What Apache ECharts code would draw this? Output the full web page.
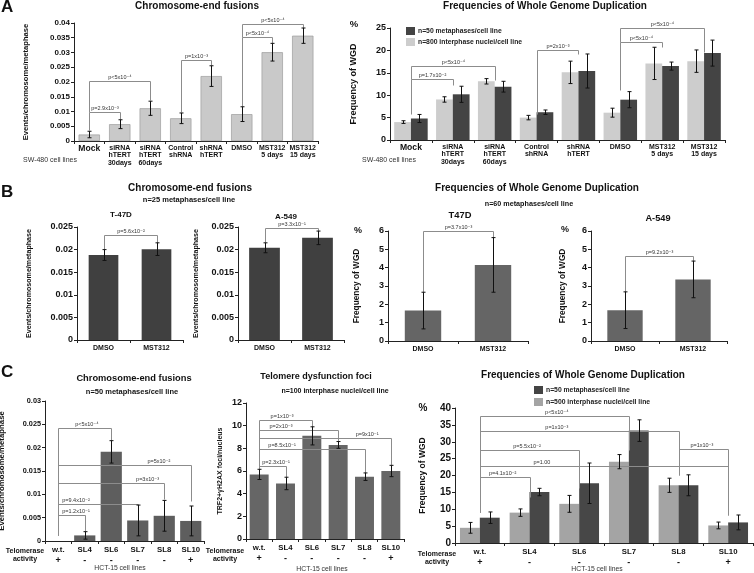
<!DOCTYPE html>
<html><head><meta charset="utf-8">
<script src="https://cdn.jsdelivr.net/npm/echarts@6/dist/echarts.min.js"></script>
<style>html,body{margin:0;padding:0;background:#fff}#c{width:754px;height:573px}</style>
</head><body><div id="c"></div>
<script>
const FONT = '"Liberation Sans", Arial, "DejaVu Sans", sans-serif';

// ---------------- Panel A (SW-480) ----------------
const aCategories = ['Mock','siRNA\nhTERT\n30days','siRNA\nhTERT\n60days','Control\nshRNA','shRNA\nhTERT','DMSO','MST312\n5 days','MST312\n15 days'];
const aFusion    = [0.0022, 0.0057, 0.0111, 0.0077, 0.0220, 0.0091, 0.0301, 0.0357];
const aFusionErr = [0.0011, 0.0015, 0.0024, 0.0018, 0.0035, 0.0025, 0.0030, 0.0026];
const aWgdNuclei    = [4.0, 9.05, 13.1, 5.0, 15.1, 6.1, 17.1, 17.6];
const aWgdNucleiErr = [0.3, 0.6, 0.6, 0.5, 2.5, 1.0, 3.6, 2.5];
const aWgdMeta      = [4.8, 10.2, 11.9, 6.2, 15.4, 9.0, 16.5, 19.4];
const aWgdMetaErr   = [0.9, 1.8, 1.2, 0.5, 3.8, 1.8, 0.9, 2.9];
// brackets: [fromCat, toCat, top, fromBottom, toBottom, label]
const aFusionBrackets = [
  [0,1,0.0099,0.0036,0.0076,'p=2.9x10⁻³'],
  [0,2,0.0203,0.0099,0.0139,'p<5x10⁻⁴'],
  [3,4,0.0275,0.0099,0.0258,'p=1x10⁻³'],
  [5,6,0.0351,0.0118,0.0332,'p<5x10⁻⁴'],
  [5,7,0.0398,0.0351,0.0383,'p<5x10⁻⁴']
];
const aWgdBrackets = [
  [0,1,13.6,5.9,12.2,'p=1.7x10⁻²'],
  [0,2,16.5,13.6,13.4,'p<5x10⁻⁴'],
  [3,4,20.0,5.9,19.3,'p=2x10⁻³'],
  [5,6,21.9,11.1,20.8,'p<5x10⁻⁴'],
  [5,7,24.9,21.9,19.7,'p<5x10⁻⁴']
];

// ---------------- Panel B ----------------
const bCategories = ['DMSO','MST312'];
const bT47Fusion = [0.0188, 0.0201];
const bT47FusionErr = [0.0012, 0.0014];
const bA549Fusion = [0.0204, 0.0226];
const bA549FusionErr = [0.0011, 0.0015];
const bT47Wgd = [1.66, 4.15];
const bT47WgdErr = [1.0, 1.49];
const bA549Wgd = [1.68, 3.36];
const bA549WgdErr = [1.0, 1.0];
const bT47FusionBrackets = [[0,1,0.0232,0.0200,0.0215,'p=5.6x10⁻²']];
const bA549FusionBrackets = [[0,1,0.0248,0.0216,0.0240,'p=3.3x10⁻¹']];
const bT47WgdBrackets = [[0,1,6.0,2.65,5.63,'p=3.7x10⁻³']];
const bA549WgdBrackets = [[0,1,4.63,2.67,4.36,'p=9.2x10⁻³']];

// ---------------- Panel C (HCT-15) ----------------
const cCategories = ['w.t.','SL4','SL6','SL7','SL8','SL10'];
const cTelomerase = ['+','-','-','-','-','+'];
const cFusion    = [0, 0.0012, 0.0191, 0.0044, 0.0054, 0.0043];
const cFusionErr = [0, 0.0008, 0.0024, 0.0033, 0.0033, 0.0032];
const cFoci      = [5.7, 4.9, 9.1, 8.3, 5.5, 6.0];
const cFociErr   = [0.45, 0.55, 0.8, 0.3, 0.33, 0.5];
const cWgdNuclei    = [4.5, 9.0, 11.6, 24.1, 17.1, 5.2];
const cWgdNucleiErr = [1.6, 1.1, 2.5, 2.1, 2.1, 1.0];
const cWgdMeta      = [7.5, 15.1, 17.7, 33.3, 17.1, 6.1];
const cWgdMetaErr   = [1.7, 1.1, 6.0, 3.2, 3.1, 2.2];
const cFusionBrackets = [
  [0,2,0.0243,0.0012,0.0216,'p<5x10⁻⁴'],
  [0,5,0.0162,0.0012,0.0086,'p=5x10⁻²'],
  [0,4,0.0124,0.0012,0.0089,'p=3x10⁻³'],
  [0,3,0.0080,0.0012,0.0077,'p=9.4x10⁻²'],
  [0,1,0.0055,0.0012,0.0021,'p=1.2x10⁻¹']
];
const cFociBrackets = [
  [0,2,10.5,6.1,9.9,'p=1x10⁻³'],
  [0,3,9.62,6.1,8.6,'p=2x10⁻³'],
  [0,5,8.94,6.1,6.5,'p=9x10⁻¹'],
  [0,4,7.91,6.1,5.8,'p=8.5x10⁻¹'],
  [0,1,6.44,6.1,5.45,'p=2.3x10⁻¹']
];
const cWgdBrackets = [
  [0,3,37.5,9.2,27.6,'p<5x10⁻⁴'],
  [0,4,33.1,9.2,20.2,'p=1x10⁻³'],
  [0,2,27.6,9.2,16.2,'p=5.5x10⁻²'],
  [0,5,22.8,9.2,8.2,'p=1.00'],
  [0,1,19.7,9.2,13.7,'p=4.1x10⁻²'],
  [4,5,27.9,20.2,8.2,'p=1x10⁻³']
];
// label anchor (in category units) for off-centre bracket labels in panel C
const cFusionLabelAt = [1.08, 3.8, 3.37, 0.67, 0.67];
const cFociLabelAt   = [0.87, 0.83, 4.1, 0.87, 0.64];
const cWgdLabelAt    = [1.55, 1.55, 0.95, 1.25, 0.46, 4.47];

// ---------------- builders ----------------
const AX = '#222';
function grid(l,t,w,h){ return {left:l, top:t, width:w, height:h, containLabel:false, outerBoundsMode:'none'}; }
function xAx(gi, data, label){
  return Object.assign({type:'category', gridIndex:gi, data,
    axisLine:{show:true, lineStyle:{color:AX, width:1}},
    axisTick:{show:true, length:3, lineStyle:{color:AX}},
    splitLine:{show:false}}, {axisLabel:Object.assign({interval:0, color:'#111', fontFamily:FONT, fontWeight:'bold', margin:3}, label)});
}
function yAx(gi, max, interval, fs, name, nameGap, nameFs){
  return {type:'value', gridIndex:gi, min:0, max, interval,
    splitLine:{show:false},
    axisLine:{show:true, lineStyle:{color:AX, width:1}},
    axisTick:{show:true, length:3, lineStyle:{color:AX}},
    axisLabel:{fontSize:fs, fontWeight:'bold', color:'#111', fontFamily:FONT, margin:4},
    name, nameLocation:'middle', nameGap, nameRotate:90,
    nameTextStyle:{fontSize:nameFs, fontWeight:'bold', color:'#111', fontFamily:FONT}};
}
function bar(gi, data, color, extra){
  return Object.assign({type:'bar', xAxisIndex:gi, yAxisIndex:gi, data, z:2,
    itemStyle:{color}, silent:true}, extra||{});
}
function errSeries(gi, values, errs, slot, nSlots, gapFrac){
  return {type:'custom', xAxisIndex:gi, yAxisIndex:gi, z:5, silent:true, clip:false,
    data: values.map((v,i)=>[i, v-errs[i], v+errs[i]]),
    encode:{x:0, y:[1,2]},
    renderItem(params, api){
      const i = api.value(0);
      if (api.value(2) - api.value(1) <= 0) return {type:'group', children:[]};
      const lo = api.coord([i, api.value(1)]);
      const hi = api.coord([i, api.value(2)]);
      const cw = api.size([1,0])[0];
      const bw = cw*(1-gapFrac)/nSlots;
      const x = Math.round(lo[0] + (slot-(nSlots-1)/2)*bw) + 0.5;
      const c = 2, st = {stroke:'#111', lineWidth:1};
      return {type:'group', children:[
        {type:'line', shape:{x1:x,y1:lo[1],x2:x,y2:hi[1]}, style:st},
        {type:'line', shape:{x1:x-c,y1:lo[1],x2:x+c,y2:lo[1]}, style:st},
        {type:'line', shape:{x1:x-c,y1:hi[1],x2:x+c,y2:hi[1]}, style:st}
      ]};
    }};
}
function bracketSeries(gi, brackets, labelAt){
  return {type:'custom', xAxisIndex:gi, yAxisIndex:gi, z:4, silent:true, clip:false,
    data: brackets.map(b=>[b[0], b[1], b[2], b[3], b[4]]),
    encode:{x:[0,1], y:[2,3,4]},
    renderItem(params, api){
      const b = brackets[params.dataIndex];
      const r = p => [Math.round(p[0])+0.5, Math.round(p[1])+0.5];
      const p1t = r(api.coord([b[0], b[2]])), p2t = r(api.coord([b[1], b[2]]));
      const p1b = r(api.coord([b[0], b[3]])), p2b = r(api.coord([b[1], b[4]]));
      let lx = (p1t[0]+p2t[0])/2;
      if (labelAt) {
        const c0 = api.coord([0, b[2]]), c1 = api.coord([1, b[2]]);
        lx = c0[0] + labelAt[params.dataIndex]*(c1[0]-c0[0]);
      }
      return {type:'group', children:[
        {type:'polyline', shape:{points:[p1b,p1t,p2t,p2b]}, style:{stroke:'#8c8c8c', lineWidth:1, fill:null}},
        {type:'text', x:lx, y:p1t[1]-1, style:{text:b[5], fontSize:5.5, fontFamily:FONT, fill:'#333', align:'center', verticalAlign:'bottom'}}
      ]};
    }};
}
function T(x, y, text, size, bold, align, extra){
  return {type:'text', x, y, silent:true, style:Object.assign({text, fontSize:size, fontWeight:bold?'bold':'normal',
    fontFamily:FONT, fill:'#111', align:align||'center', verticalAlign:'middle'}, extra||{})};
}

const aLabel = {fontSize:7, lineHeight:7.5,
  formatter:(v,i)=> i===0 ? '{big|'+v+'}' : v,
  rich:{big:{fontSize:8.6, fontWeight:'bold', fontFamily:FONT, color:'#111', lineHeight:10}}};
const cLabel = (fs)=>({
  formatter:(v,i)=>'{n|'+v+'}\n{t|'+cTelomerase[i]+'}',
  rich:{n:{fontSize:fs, fontWeight:'bold', fontFamily:FONT, color:'#111', lineHeight:11},
        t:{fontSize:9, fontWeight:'bold', fontFamily:FONT, color:'#111', lineHeight:11}}});

const LIGHT_A = '#cdcdcd', DARK = '#444444';
const N50 = 'n=50 metaphases/cell line', N800 = 'n=800 interphase nuclei/cell line', N500 = 'n=500 interphase nuclei/cell line';

const option = {
  animation:false,
  backgroundColor:'#fff',
  textStyle:{fontFamily:FONT},
  grid:[
    grid(74,23,244,118),   // A fusion
    grid(390,28,335,112),  // A WGD
    grid(77,227,106,113),  // B T-47D fusion
    grid(238,227,106,113), // B A-549 fusion
    grid(388,231,140,110), // B T47D WGD
    grid(591,231,136,110), // B A-549 WGD
    grid(45,401,159,140),  // C fusion
    grid(246,403,158,136), // C foci
    grid(455,408,298,135)  // C WGD
  ],
  xAxis:[
    xAx(0, aCategories, aLabel),
    xAx(1, aCategories, aLabel),
    xAx(2, bCategories, {fontSize:7, margin:5}),
    xAx(3, bCategories, {fontSize:7, margin:5}),
    xAx(4, bCategories, {fontSize:7, margin:5}),
    xAx(5, bCategories, {fontSize:7, margin:5}),
    xAx(6, cCategories, cLabel(7.8)),
    xAx(7, cCategories, cLabel(7.8)),
    xAx(8, cCategories, cLabel(7.8))
  ],
  yAxis:[
    yAx(0, 0.04, 0.005, 8, 'Events/chromosome/metaphase', 44, 7.6),
    yAx(1, 25, 5, 9, 'Frequency of WGD', 32, 9),
    yAx(2, 0.025, 0.005, 9, 'Events/chromosome/metaphase', 44, 7.1),
    yAx(3, 0.025, 0.005, 9, 'Events/chromosome/metaphase', 38, 7.1),
    yAx(4, 6, 1, 9, 'Frequency of WGD', 27, 8.3),
    yAx(5, 6, 1, 9, 'Frequency of WGD', 24, 8.3),
    yAx(6, 0.03, 0.005, 7.3, 'Events/chromosome/metaphase', 39, 7.8),
    yAx(7, 12, 2, 9, 'TRF2+γH2AX foci/nucleus', 22, 7),
    yAx(8, 40, 5, 10, 'Frequency of WGD', 28, 8.5)
  ],
  legend:[
    {data:[N50, N800], orient:'vertical', left:401, top:22, itemWidth:9, itemHeight:8, itemGap:3, icon:'rect',
     selectedMode:false, textStyle:{fontSize:6.8, fontWeight:'bold', color:'#222', fontFamily:FONT, padding:[0,0,0,-2]}},
    {data:[N50, N500], orient:'vertical', left:529, top:381, itemWidth:9, itemHeight:8, itemGap:4, icon:'rect',
     selectedMode:false, textStyle:{fontSize:6.8, fontWeight:'bold', color:'#222', fontFamily:FONT, padding:[0,0,0,-2]}}
  ],
  series:[
    // A fusion
    bar(0, aFusion, '#c9c9c9', {barWidth:'70%', itemStyle:{color:'#c9c9c9', borderColor:'#9c9c9c', borderWidth:0.7}}),
    errSeries(0, aFusion, aFusionErr, 0, 1, 0),
    bracketSeries(0, aFusionBrackets),
    // A WGD
    bar(1, aWgdNuclei, LIGHT_A, {name:N800, barGap:'0%', barCategoryGap:'20%'}),
    bar(1, aWgdMeta, DARK, {name:N50, barGap:'0%', barCategoryGap:'20%'}),
    errSeries(1, aWgdNuclei, aWgdNucleiErr, 0, 2, 0.2),
    errSeries(1, aWgdMeta, aWgdMetaErr, 1, 2, 0.2),
    bracketSeries(1, aWgdBrackets),
    // B fusion
    bar(2, bT47Fusion, '#404040', {barWidth:'56%'}),
    errSeries(2, bT47Fusion, bT47FusionErr, 0, 1, 0),
    bracketSeries(2, bT47FusionBrackets),
    bar(3, bA549Fusion, '#404040', {barWidth:'58%'}),
    errSeries(3, bA549Fusion, bA549FusionErr, 0, 1, 0),
    bracketSeries(3, bA549FusionBrackets),
    // B WGD
    bar(4, bT47Wgd, '#656565', {barWidth:'52%'}),
    errSeries(4, bT47Wgd, bT47WgdErr, 0, 1, 0),
    bracketSeries(4, bT47WgdBrackets),
    bar(5, bA549Wgd, '#656565', {barWidth:'52%'}),
    errSeries(5, bA549Wgd, bA549WgdErr, 0, 1, 0),
    bracketSeries(5, bA549WgdBrackets),
    // C fusion
    bar(6, cFusion, '#5e5e5e', {barWidth:'80%'}),
    errSeries(6, cFusion, cFusionErr, 0, 1, 0),
    bracketSeries(6, cFusionBrackets, cFusionLabelAt),
    // C foci
    bar(7, cFoci, '#666666', {barWidth:'72%'}),
    errSeries(7, cFoci, cFociErr, 0, 1, 0),
    bracketSeries(7, cFociBrackets, cFociLabelAt),
    // C WGD
    bar(8, cWgdNuclei, '#a4a4a4', {name:N500, barGap:'0%', barCategoryGap:'20%'}),
    bar(8, cWgdMeta, '#474747', {name:N50, barGap:'0%', barCategoryGap:'20%'}),
    errSeries(8, cWgdNuclei, cWgdNucleiErr, 0, 2, 0.2),
    errSeries(8, cWgdMeta, cWgdMetaErr, 1, 2, 0.2),
    bracketSeries(8, cWgdBrackets, cWgdLabelAt)
  ],
  graphic:[
    T(1, 7, 'A', 17, true, 'left'),
    T(1, 192, 'B', 17, true, 'left'),
    T(1, 372, 'C', 17, true, 'left'),
    // A
    T(197, 6, 'Chromosome-end fusions', 10, true),
    T(545, 6, 'Frequencies of Whole Genome Duplication', 10, true),
    T(354, 24, '%', 9.5, true),
    T(23, 160, 'SW-480 cell lines', 7, false, 'left', {fill:'#333'}),
    T(362, 160, 'SW-480 cell lines', 7, false, 'left', {fill:'#333'}),
    // B
    T(190, 188, 'Chromosome-end fusions', 10, true),
    T(189, 200, 'n=25 metaphases/cell line', 7.5, true),
    T(121, 215, 'T-47D', 8, true),
    T(286, 217, 'A-549', 8, true),
    T(537, 188, 'Frequencies of Whole Genome Duplication', 10, true),
    T(529, 204, 'n=60 metaphases/cell line', 7.2, true),
    T(460, 215, 'T47D', 9.4, true),
    T(658, 218, 'A-549', 9.2, true),
    T(358, 231, '%', 9, true),
    T(565, 230, '%', 9, true),
    // C
    T(134, 378, 'Chromosome-end fusions', 9.3, true),
    T(132, 392, 'n=50 metaphases/cell line', 7.5, true),
    T(316, 377, 'Telomere dysfunction foci', 9, true),
    T(335, 391, 'n=100 interphase nuclei/cell line', 7, true),
    T(583, 375, 'Frequencies of Whole Genome Duplication', 10, true),
    T(423, 408, '%', 10, true),
    T(25, 555, 'Telomerase\nactivity', 7, true, 'center', {lineHeight:8}),
    T(225, 555, 'Telomerase\nactivity', 7, true, 'center', {lineHeight:8}),
    T(437, 558, 'Telomerase\nactivity', 7, true, 'center', {lineHeight:8}),
    T(120, 568, 'HCT-15 cell lines', 6.8, false, 'center', {fill:'#333'}),
    T(322, 569, 'HCT-15 cell lines', 6.8, false, 'center', {fill:'#333'}),
    T(597, 569, 'HCT-15 cell lines', 6.8, false, 'center', {fill:'#333'})
  ]
};
const chart = echarts.init(document.getElementById('c'), null, {renderer:'canvas'});
chart.setOption(option);
</script></body></html>
